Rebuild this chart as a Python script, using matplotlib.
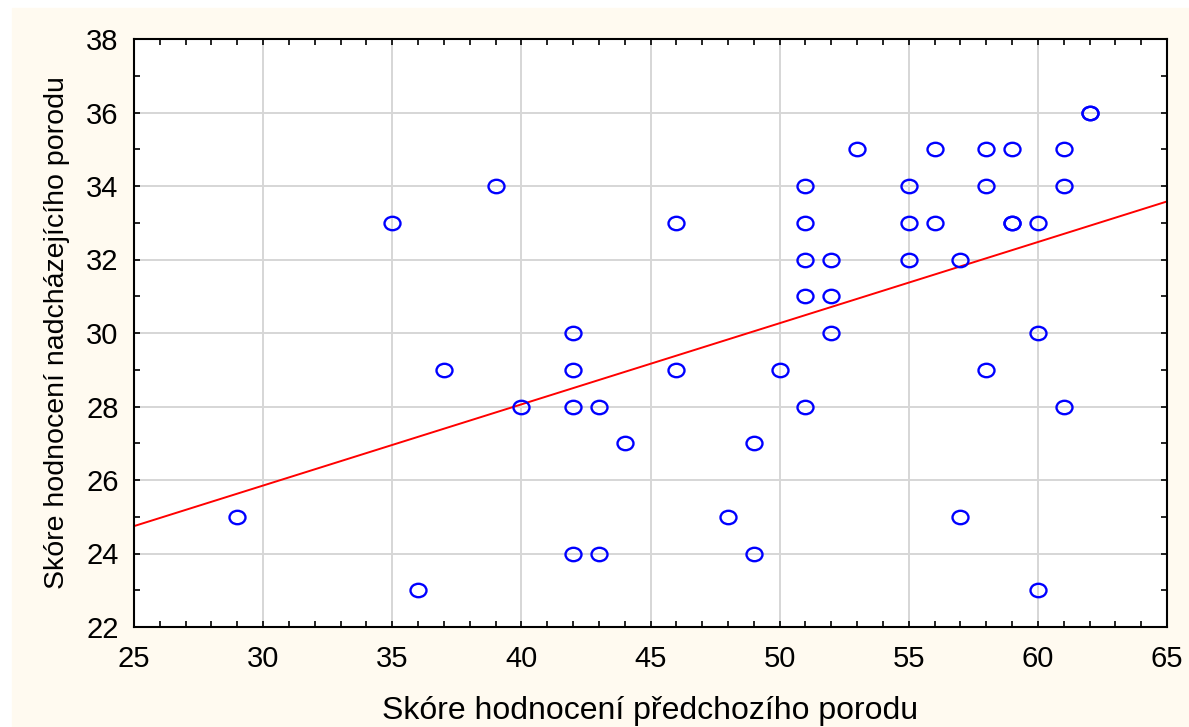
import matplotlib.pyplot as plt
import numpy as np
from matplotlib.path import Path
from matplotlib.transforms import Affine2D
from matplotlib.ticker import MultipleLocator

# Skóre hodnocení předchozího porodu (x) vs. nadcházejícího porodu (y)
prev_score = [29, 35, 36, 37, 39, 40, 42, 42, 42, 42, 43, 43, 44, 46, 46,
              48, 49, 49, 50, 51, 51, 51, 51, 51, 52, 52, 52, 53, 55, 55,
              55, 56, 56, 57, 57, 58, 58, 58, 59, 59, 59, 60, 60, 60, 61,
              61, 61, 62, 62]
next_score = [25, 33, 23, 29, 34, 28, 30, 29, 28, 24, 28, 24, 27, 33, 29,
              25, 27, 24, 29, 34, 33, 32, 31, 28, 32, 31, 30, 35, 34, 33,
              32, 35, 33, 32, 25, 35, 34, 29, 35, 33, 33, 33, 30, 23, 35,
              34, 28, 36, 36]

x_ticks = [25, 30, 35, 40, 45, 50, 55, 60, 65]
y_ticks = [22, 24, 26, 28, 30, 32, 34, 36, 38]

x = np.array(prev_score)
y = np.array(next_score)
slope, intercept = np.polyfit(x, y, 1)

bg = '#fffaf0'
plt.rcParams['font.family'] = ['Liberation Sans', 'DejaVu Sans']

fig = plt.figure(figsize=(11.89, 7.27), dpi=100, facecolor='white')
# ivory panel behind the chart
fig.patches.append(plt.Rectangle((12 / 1189, 0), 1, 1 - 8 / 727,
                                 transform=fig.transFigure, color=bg, zorder=-10))
ax = fig.add_axes([134 / 1189, 1 - 627 / 727, (1167 - 134) / 1189, (627 - 39) / 727])
ax.set_facecolor('white')

# slightly flattened open circle
ellipse = Path.unit_circle().transformed(Affine2D().scale(1.0, 0.84))

ax.plot(x, y, linestyle='none', marker=ellipse, markersize=11.5,
        markerfacecolor='none', markeredgecolor='#0000ff', markeredgewidth=1.7, zorder=3)

xx = np.array([25, 65])
ax.plot(xx, slope * xx + intercept, color='#ff0000', linewidth=1.4, zorder=2)

ax.set_xlim(25, 65)
ax.set_ylim(22, 38)
ax.set_xticks(x_ticks)
ax.set_yticks(y_ticks)
ax.xaxis.set_minor_locator(MultipleLocator(1))
ax.yaxis.set_minor_locator(MultipleLocator(1))
ax.grid(True, which='major', color='#d6d6d6', linewidth=1.4, zorder=0)
ax.set_axisbelow(True)

ax.tick_params(which='both', direction='in', top=True, right=True,
               length=4, width=1.2, labelsize=21)
ax.tick_params(axis='x', pad=13)
ax.tick_params(axis='y', pad=11)
for s in ax.spines.values():
    s.set_linewidth(1.5)

ax.set_xlabel('Skóre hodnocení předchozího porodu', fontsize=23)
ax.set_ylabel('Skóre hodnocení nadcházejícího porodu', fontsize=20.5)
ax.xaxis.set_label_coords(0.5, -0.117)
ax.yaxis.set_label_coords(-0.062, 0.5)

fig.savefig('out.png', dpi=100, facecolor='white')
